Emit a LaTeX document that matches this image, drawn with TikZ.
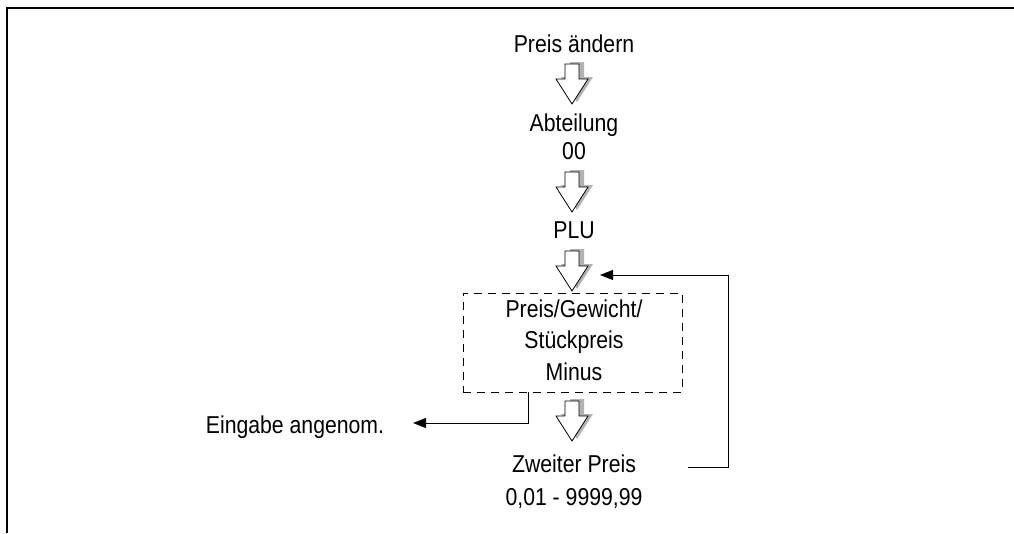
\documentclass[tikz,border=0pt]{standalone}
\usepackage{fontspec}
\setmainfont{Liberation Sans}[FakeStretch=0.87]
\usetikzlibrary{arrows.meta}
\begin{document}
\begin{tikzpicture}[x=1pt,y=-1pt,
  lbl/.style={font=\fontsize{24.4}{31}\selectfont, inner sep=0pt, anchor=base},
  conn/.style={line width=1pt},
  tipped/.style={-{Triangle[length=13pt,width=10pt]}},
  frameline/.style={line width=2pt},
  dashbox/.style={draw, line width=1pt, dash pattern=on 8pt off 6pt, minimum width=219pt, minimum height=99pt, inner sep=0pt},
  downarr/.pic={
    \fill[gray!60] (-7+5,0-2) -- (7+5,0-2) -- (7+5,15-2) -- (16+5,15-2) -- (0+5,40-2) -- (-16+5,15-2) -- (-7+5,15-2) -- cycle;
    \draw[line width=0.8pt, fill=white, line join=miter] (-7,0) -- (7,0) -- (7,15) -- (16,15) -- (0,40) -- (-16,15) -- (-7,15) -- cycle;
  }]
\useasboundingbox (0,0) rectangle (1014,533);
% frame
\draw[frameline] (7,533) -- (7,8) -- (1014,8);

% texts
\node[lbl] (t1) at (574,52) {Preis ändern};
\node[lbl] (t2a) at (574,131) {Abteilung};
\node[lbl] (t2b) at (574,159) {00};
\node[lbl] (t3) at (574,238) {PLU};
\node[dashbox] (box) at (572.5,342.5) {};
\node[lbl] (t4a) at (574,317) {Preis/Gewicht/};
\node[lbl] (t4b) at (574,348) {Stückpreis};
\node[lbl] (t4c) at (574,380) {Minus};
\node[lbl] (eing) at (295,433) {Eingabe angenom.};
\node[lbl] (t5a) at (574,472) {Zweiter Preis};
\node[lbl] (t5b) at (574,505) {0,01 - 9999,99};

% block arrows
\pic (a1) at (572,64) {downarr};
\pic (a2) at (572,172) {downarr};
\pic (a3) at (572,251) {downarr};
\pic (a4) at (572,401) {downarr};

% connectors
\coordinate (fbStart) at (688,467);
\coordinate (fbCorner) at (728,467);
\coordinate (fbEnd) at (600,275);
\draw[conn,tipped] (fbStart) -- (fbCorner) |- (fbEnd);

\coordinate (leftStart) at (528,392);
\coordinate (leftEnd) at (413,423);
\draw[conn,tipped] (leftStart) |- (leftEnd);
\end{tikzpicture}
\end{document}
